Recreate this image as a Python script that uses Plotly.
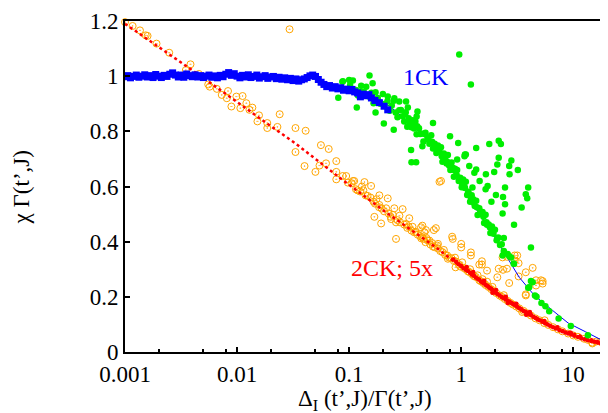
import plotly.graph_objects as go

# ---------------- data ----------------
# 1CK data (blue squares)
ck1_x = [0.00100, 0.00106, 0.00112, 0.00119, 0.00126, 0.00133, 0.00141, 0.00150, 0.00158, 0.00168,
         0.00178, 0.00188, 0.00200, 0.00211, 0.00224, 0.00237, 0.00251, 0.00266, 0.00282, 0.00299,
         0.00316, 0.00335, 0.00355, 0.00376, 0.00398, 0.00422, 0.00447, 0.00473, 0.00501, 0.00531,
         0.00562, 0.00596, 0.00631, 0.00668, 0.00708, 0.00750, 0.00794, 0.00841, 0.00891, 0.00944,
         0.0100, 0.0106, 0.0112, 0.0119, 0.0126, 0.0133, 0.0141, 0.0150, 0.0158, 0.0168,
         0.0178, 0.0188, 0.0200, 0.0211, 0.0224, 0.0237, 0.0251, 0.0266, 0.0282, 0.0299,
         0.0316, 0.0335, 0.0355, 0.0376, 0.0398, 0.0422, 0.0447, 0.0473, 0.0501, 0.0531,
         0.0562, 0.0596, 0.0631, 0.0668, 0.0708, 0.0750, 0.0794, 0.0841, 0.0891, 0.0944,
         0.100, 0.106, 0.112, 0.119, 0.126, 0.133, 0.141, 0.150, 0.158, 0.170,
         0.186, 0.205, 0.221]
ck1_y = [0.998, 1.002, 0.994, 0.999, 1.004, 0.996, 1.000, 1.005, 0.997, 1.002,
         0.995, 1.006, 1.000, 0.995, 1.003, 0.999, 1.007, 1.012, 1.004, 0.997,
         1.004, 0.996, 1.008, 1.002, 0.998, 1.005, 0.997, 1.002, 0.995, 1.000,
         1.004, 0.996, 1.001, 0.994, 1.003, 0.998, 1.007, 1.013, 1.003, 1.009,
         1.000, 0.994, 1.003, 0.997, 1.005, 0.995, 0.999, 1.004, 0.993, 0.998,
         1.002, 0.992, 0.997, 0.999, 0.991, 0.996, 0.989, 0.994, 0.987, 0.992,
         0.984, 0.990, 0.982, 0.987, 0.990, 0.995, 1.001, 1.004, 0.999, 0.988,
         0.978, 0.970, 0.962, 0.966, 0.957, 0.962, 0.954, 0.958, 0.949, 0.953,
         0.947, 0.952, 0.943, 0.939, 0.925, 0.935, 0.929, 0.933, 0.921, 0.912,
         0.904, 0.891, 0.878]

# 1CK curve (thin blue line)
ck1_curve_x = [0.1, 0.2, 0.35, 0.5, 0.7, 1.0, 1.4, 2.04, 3.29, 4.5, 6.52, 9.0, 12.9, 19.2]
ck1_curve_y = [0.965, 0.91, 0.83, 0.775, 0.705, 0.615, 0.51, 0.41, 0.271, 0.205, 0.151, 0.105, 0.073, 0.037]

# 1CK scattered data (green dots)
green_x = [0.088, 0.095, 0.102, 0.108, 0.115, 0.12, 0.128, 0.135, 0.142, 0.15,
           0.158, 0.165, 0.172, 0.18, 0.19, 0.2, 0.21, 0.22, 0.23, 0.24,
           0.25, 0.26, 0.27, 0.28, 0.29, 0.30, 0.31, 0.32, 0.33, 0.34,
           0.35, 0.36, 0.37, 0.38, 0.39, 0.40, 0.42, 0.44, 0.46, 0.48,
           0.50, 0.52, 0.54, 0.56, 0.58, 0.60, 0.62, 0.64, 0.66, 0.68,
           0.70, 0.72, 0.74, 0.76, 0.78, 0.80, 0.82, 0.84, 0.86, 0.88,
           0.90, 0.92, 0.95, 0.98, 1.01, 1.04, 1.07, 1.10, 1.13, 1.16,
           1.20, 1.24, 1.28, 1.32, 1.36, 1.40, 1.45, 1.50, 1.55, 1.60,
           1.65, 1.70, 1.76, 1.82, 1.88, 1.94, 2.00, 2.07, 2.14, 2.22,
           2.30, 2.40,
           0.315, 0.345, 0.375, 0.405, 0.43, 0.47, 0.51, 0.55, 0.59, 0.63,
           0.67, 0.71, 0.75, 0.79, 0.83, 0.87, 0.91, 0.97, 1.02, 1.08,
           1.15, 1.22, 1.3, 1.38, 1.48, 1.58, 1.68, 1.8, 1.92, 2.1,
           2.6, 2.79, 2.94, 2.96, 2.7, 2.34, 3.96, 4.04, 4.55, 4.7, 5.2, 5.64, 6.1, 7.4, 9.5, 13.5,
           0.96, 1.22, 0.152, 0.162, 0.1, 0.087, 0.08, 0.117, 0.172, 0.204,
           0.25, 0.357, 0.396, 0.36, 0.56, 0.795, 0.94, 1.36, 1.78, 2.16,
           2.26, 1.1, 1.07, 1.18, 1.36, 1.31, 1.66, 1.97, 2.1, 2.16,
           2.68, 2.8, 3.2, 2.7, 1.46, 1.26, 1.65, 2.04, 2.36, 3.77,
           3.96, 1.72, 1.86, 2.46, 2.46, 3.88, 3.46, 2.34, 2.96, 2.4,
           4.19, 4.34, 4.19, 0.45, 0.407, 0.40, 0.128, 0.221, 0.253, 0.28,
           0.322, 0.334, 0.92, 1.08]
green_y = [0.982, 0.950, 0.968, 0.984, 0.950, 0.930, 0.965, 0.943, 0.962, 0.926,
           0.940, 0.902, 0.942, 0.921, 0.900, 0.935, 0.900, 0.910, 0.875, 0.894,
           0.911, 0.868, 0.851, 0.876, 0.877, 0.855, 0.836, 0.869, 0.817, 0.847,
           0.835, 0.815, 0.840, 0.810, 0.836, 0.789, 0.811, 0.792, 0.763, 0.795,
           0.777, 0.755, 0.786, 0.738, 0.755, 0.721, 0.749, 0.726, 0.742, 0.690,
           0.720, 0.705, 0.683, 0.714, 0.676, 0.660, 0.687, 0.668, 0.635, 0.664,
           0.640, 0.660, 0.620, 0.632, 0.597, 0.625, 0.598, 0.617, 0.569, 0.581,
           0.545, 0.568, 0.554, 0.529, 0.548, 0.497, 0.521, 0.499, 0.508, 0.468,
           0.498, 0.461, 0.462, 0.431, 0.455, 0.429, 0.443, 0.405, 0.415, 0.388,
           0.391, 0.366,
           0.862, 0.822, 0.826, 0.818, 0.790, 0.790, 0.770, 0.762, 0.740, 0.738,
           0.710, 0.712, 0.690, 0.680, 0.662, 0.660, 0.642, 0.628, 0.610, 0.595,
           0.575, 0.560, 0.540, 0.525, 0.505, 0.490, 0.470, 0.452, 0.440, 0.410,
           0.355, 0.343, 0.32, 0.32, 0.346, 0.35, 0.233, 0.235, 0.205, 0.2, 0.178, 0.166, 0.148, 0.121, 0.094, 0.061,
           1.079, 0.97, 1.002, 0.974, 0.986, 0.98, 0.922, 0.886, 0.868, 0.828,
           0.806, 0.732, 0.688, 0.688, 0.83, 0.782, 0.758, 0.74, 0.754, 0.766,
           0.754, 0.716, 0.71, 0.674, 0.662, 0.65, 0.644, 0.653, 0.68, 0.704,
           0.674, 0.694, 0.66, 0.644, 0.62, 0.596, 0.59, 0.569, 0.562, 0.572,
           0.596, 0.602, 0.545, 0.536, 0.596, 0.557, 0.524, 0.502, 0.461, 0.413,
           0.379, 0.253, 0.257, 0.746, 0.872, 0.854, 0.944, 0.926, 0.92, 0.908,
           0.908, 0.886, 0.698, 0.716]

# 2CK curve (red dotted line)
ck2_curve_x = [0.001, 0.00456, 0.0183, 0.0327, 0.0823, 0.214, 0.597, 0.838, 2.34, 6.52, 19.0]
ck2_curve_y = [1.19, 1.005, 0.83, 0.758, 0.632, 0.506, 0.379, 0.332, 0.199, 0.091, 0.031]

# 2CK dense data (small red dots)
red_x = [0.85, 0.9, 0.95, 1.0, 1.05, 1.1, 1.15, 1.2, 1.25, 1.3,
         1.35, 1.4, 1.45, 1.5, 1.55, 1.6, 1.65, 1.7, 1.75, 1.8,
         1.85, 1.9, 1.95, 2.0, 2.1, 2.2, 2.3, 2.4, 2.5, 2.6,
         2.7, 2.8, 2.9, 3.0, 3.15, 3.3, 3.45, 3.6, 3.8, 4.0,
         4.2, 4.4, 4.6, 4.8, 5.0, 5.3, 5.6, 5.9, 6.2, 6.6,
         7.0, 7.5, 8.0, 8.5, 9.0, 9.6, 10.2, 11.0, 11.8, 12.6,
         13.5, 14.5, 15.5, 16.5, 17.5, 18.5,
         1.12, 1.28, 1.6, 2.05, 2.5, 3.1, 4.1, 5.5, 7.2, 9.5, 3.8, 2.6, 1.9]
red_y = [0.335, 0.327, 0.318, 0.312, 0.304, 0.298, 0.294, 0.287, 0.280, 0.276,
         0.270, 0.266, 0.262, 0.256, 0.252, 0.248, 0.244, 0.240, 0.237, 0.232,
         0.229, 0.225, 0.220, 0.216, 0.210, 0.205, 0.199, 0.195, 0.190, 0.186,
         0.182, 0.178, 0.174, 0.170, 0.164, 0.159, 0.154, 0.149, 0.143, 0.138,
         0.133, 0.128, 0.123, 0.119, 0.115, 0.110, 0.104, 0.100, 0.095, 0.090,
         0.085, 0.080, 0.075, 0.071, 0.067, 0.063, 0.059, 0.054, 0.050, 0.046,
         0.043, 0.040, 0.037, 0.034, 0.032, 0.030,
         0.308, 0.290, 0.258, 0.225, 0.200, 0.175, 0.145, 0.112, 0.090, 0.070, 0.135, 0.178, 0.215]

# 2CK scattered data (orange open circles)
orange_x = [0.001, 0.00117, 0.00136, 0.00153, 0.00159, 0.00191, 0.00248, 0.00349, 0.00384, 0.00456,
            0.00553, 0.0057, 0.0066, 0.0073, 0.0083, 0.0081, 0.00986, 0.0112, 0.0089, 0.0107,
            0.0121, 0.0129, 0.0137, 0.0157, 0.0152, 0.0186, 0.0186, 0.0229, 0.024, 0.0332,
            0.0332, 0.0294, 0.0409, 0.056, 0.0657, 0.0400, 0.0500, 0.0544, 0.0622, 0.0768,
            0.0768, 0.0876, 0.108, 0.137, 0.157, 0.186, 0.221, 0.66, 0.0768, 0.0941,
            0.0974, 0.111, 0.119, 0.134, 0.146, 0.175, 0.186, 0.214, 0.253, 0.3,
            0.168, 0.193, 0.237, 0.281, 0.344, 0.262, 0.322, 0.368, 0.438, 0.484,
            0.594, 0.38, 0.45, 0.52, 0.61, 0.262, 0.64, 0.45, 0.57, 0.47,
            0.49, 0.83, 0.84, 1.0, 1.0, 1.22, 1.22, 1.53, 1.53, 1.45,
            1.7, 0.89, 2.16, 2.56, 2.1, 2.68, 3.0, 3.0, 2.34, 3.25,
            3.77, 4.34, 3.77, 4.65, 5.33, 5.33, 5.55, 3.5, 14.8, 17.5,
            2.56, 3.16, 3.25, 2.36, 5.15, 4.65, 3.77, 14.8,
            0.105, 0.115, 0.125, 0.13, 0.14, 0.155, 0.165, 0.17, 0.185, 0.195,
            0.205, 0.225, 0.235, 0.245, 0.27, 0.285, 0.31, 0.33, 0.34, 0.36,
            0.39, 0.41, 0.43, 0.46, 0.5, 0.53, 0.55, 0.58, 0.62, 0.65,
            0.68, 0.72, 0.75, 0.78, 0.82, 0.86, 0.9, 0.95, 1.05, 1.1,
            1.15, 1.25, 1.3, 1.35, 1.45, 1.5, 1.58, 1.65, 1.75, 1.85,
            1.95, 2.05, 2.2, 2.3, 2.45, 2.6, 2.75, 2.9, 3.1, 3.3,
            3.6, 3.9, 4.2, 4.6, 5.0, 5.5, 6.0, 6.6, 7.3, 8.0,
            9.0, 10.0, 11.0, 12.5, 13.5, 16.0, 0.62, 0.7, 0.88, 1.02,
            1.2, 1.4, 1.7, 0.76, 0.98, 1.18, 1.55, 1.9, 2.4, 0.56,
            0.48, 0.44]
orange_y = [1.196, 1.182, 1.166, 1.148, 1.146, 1.118, 1.085, 1.022, 1.043, 1.008,
            0.97, 0.962, 0.954, 0.932, 0.946, 0.92, 0.926, 0.928, 0.89, 0.884,
            0.902, 0.878, 0.886, 0.858, 0.836, 0.83, 0.812, 0.816, 0.862, 0.812,
            0.725, 1.17, 0.802, 0.75, 0.736, 0.674, 0.653, 0.676, 0.684, 0.692,
            0.626, 0.638, 0.62, 0.616, 0.602, 0.568, 0.557, 0.62, 0.653, 0.638,
            0.614, 0.62, 0.586, 0.586, 0.566, 0.554, 0.533, 0.521, 0.521, 0.518,
            0.49, 0.466, 0.482, 0.494, 0.485, 0.47, 0.464, 0.454, 0.452, 0.442,
            0.449, 0.434, 0.416, 0.404, 0.386, 0.41, 0.617, 0.458, 0.442, 0.434,
            0.413, 0.418, 0.41, 0.392, 0.379, 0.361, 0.35, 0.329, 0.317, 0.317,
            0.295, 0.307, 0.302, 0.302, 0.271, 0.25, 0.35, 0.332, 0.343, 0.274,
            0.289, 0.305, 0.205, 0.241, 0.257, 0.248, 0.115, 0.145, 0.034, 0.037,
            0.345, 0.35, 0.322, 0.298, 0.26, 0.26, 0.209, 0.031,
            0.612, 0.59, 0.582, 0.6, 0.568, 0.56, 0.545, 0.538, 0.525, 0.52,
            0.51, 0.502, 0.49, 0.497, 0.478, 0.47, 0.462, 0.45, 0.455, 0.44,
            0.436, 0.425, 0.42, 0.41, 0.405, 0.39, 0.395, 0.38, 0.375, 0.366,
            0.362, 0.352, 0.35, 0.342, 0.34, 0.33, 0.328, 0.318, 0.305, 0.3,
            0.292, 0.282, 0.275, 0.272, 0.26, 0.256, 0.25, 0.243, 0.236, 0.228,
            0.22, 0.214, 0.205, 0.2, 0.192, 0.185, 0.178, 0.172, 0.165, 0.158,
            0.149, 0.14, 0.132, 0.122, 0.115, 0.105, 0.098, 0.09, 0.082, 0.075,
            0.067, 0.06, 0.055, 0.048, 0.044, 0.038, 0.392, 0.37, 0.342, 0.325,
            0.3, 0.278, 0.255, 0.338, 0.31, 0.29, 0.264, 0.236, 0.206, 0.382,
            0.398, 0.412]

x_tick_vals = [0.001, 0.01, 0.1, 1, 10]
x_tick_text = ["0.001", "0.01", "0.1", "1", "10"]
x_minor_vals = [0.002, 0.005, 0.008, 0.02, 0.05, 0.08, 0.2, 0.5, 0.8, 2, 5, 8]
y_tick_vals = [0, 0.2, 0.4, 0.6, 0.8, 1.0, 1.2]
y_tick_text = ["0", "0.2", "0.4", "0.6", "0.8", "1", "1.2"]

FONT = "Liberation Serif, Times New Roman, serif"

fig = go.Figure()
fig.add_trace(go.Scatter(x=orange_x, y=orange_y, mode="markers", cliponaxis=False,
                         marker=dict(symbol="circle-open-dot", size=7, color="#FFA500",
                                     line=dict(width=1, color="#FFA500")),
                         showlegend=False))
fig.add_trace(go.Scatter(x=red_x, y=red_y, mode="markers",
                         marker=dict(symbol="circle", size=4.5, color="#FF0000"),
                         showlegend=False))
fig.add_trace(go.Scatter(x=ck2_curve_x, y=ck2_curve_y, mode="lines",
                         line=dict(color="#FF0000", width=2.5, dash="dot"),
                         showlegend=False))
fig.add_trace(go.Scatter(x=ck1_curve_x, y=ck1_curve_y, mode="lines",
                         line=dict(color="#0000FF", width=1),
                         showlegend=False))
fig.add_trace(go.Scatter(x=green_x, y=green_y, mode="markers",
                         marker=dict(symbol="circle", size=6.5, color="#00EE00"),
                         showlegend=False))
fig.add_trace(go.Scatter(x=ck1_x, y=ck1_y, mode="markers",
                         marker=dict(symbol="square", size=7, color="#0000FF"),
                         showlegend=False))

fig.add_annotation(x=-0.311, y=0.998, xref="x", yref="y", text="1CK", showarrow=False,
                   font=dict(family=FONT, size=24, color="#0000FF"))
fig.add_annotation(x=-0.618, y=0.303, xref="x", yref="y", text="2CK; 5x", showarrow=False,
                   font=dict(family=FONT, size=24, color="#FF0000"))
# axis titles
fig.add_annotation(x=0.5, y=-0.144, xref="paper", yref="paper",
                   text="Δ<sub>I</sub> (t’,J)/Γ(t’,J)", showarrow=False,
                   xanchor="center", yanchor="middle",
                   font=dict(family=FONT, size=23, color="black"))
fig.add_annotation(x=-0.2137, y=0.4985, xref="paper", yref="paper",
                   text="χ Γ(t’,J)", showarrow=False, textangle=-90,
                   xanchor="center", yanchor="middle",
                   font=dict(family=FONT, size=23, color="black"))

# page body has an 8px default margin, so the figure is drawn 8px smaller
fig.update_layout(
    width=600, height=405,
    margin=dict(l=117, r=1, t=11, b=61),
    paper_bgcolor="white", plot_bgcolor="white",
    font=dict(family=FONT, size=23, color="black"),
    showlegend=False,
)
fig.update_xaxes(
    type="log", range=[-3, 1.283],
    tickmode="array", tickvals=x_tick_vals, ticktext=x_tick_text,
    ticks="inside", ticklen=5, tickwidth=1.5, tickcolor="black",
    minor=dict(tickmode="array", tickvals=x_minor_vals, ticks="inside", ticklen=3,
               tickwidth=1.5, tickcolor="black", showgrid=False),
    showline=True, linewidth=2, linecolor="black", mirror=True,
    showgrid=False, zeroline=False, ticklabeloverflow="allow",
    tickfont=dict(family=FONT, size=23),
)
fig.update_yaxes(
    range=[0, 1.2],
    tickmode="array", tickvals=y_tick_vals, ticktext=y_tick_text,
    ticks="inside", ticklen=5, tickwidth=1.5, tickcolor="black",
    showline=True, linewidth=2, linecolor="black", mirror=True,
    showgrid=False, zeroline=False, ticklabeloverflow="allow",
    tickfont=dict(family=FONT, size=23),
)

fig.write_html("out.html")
